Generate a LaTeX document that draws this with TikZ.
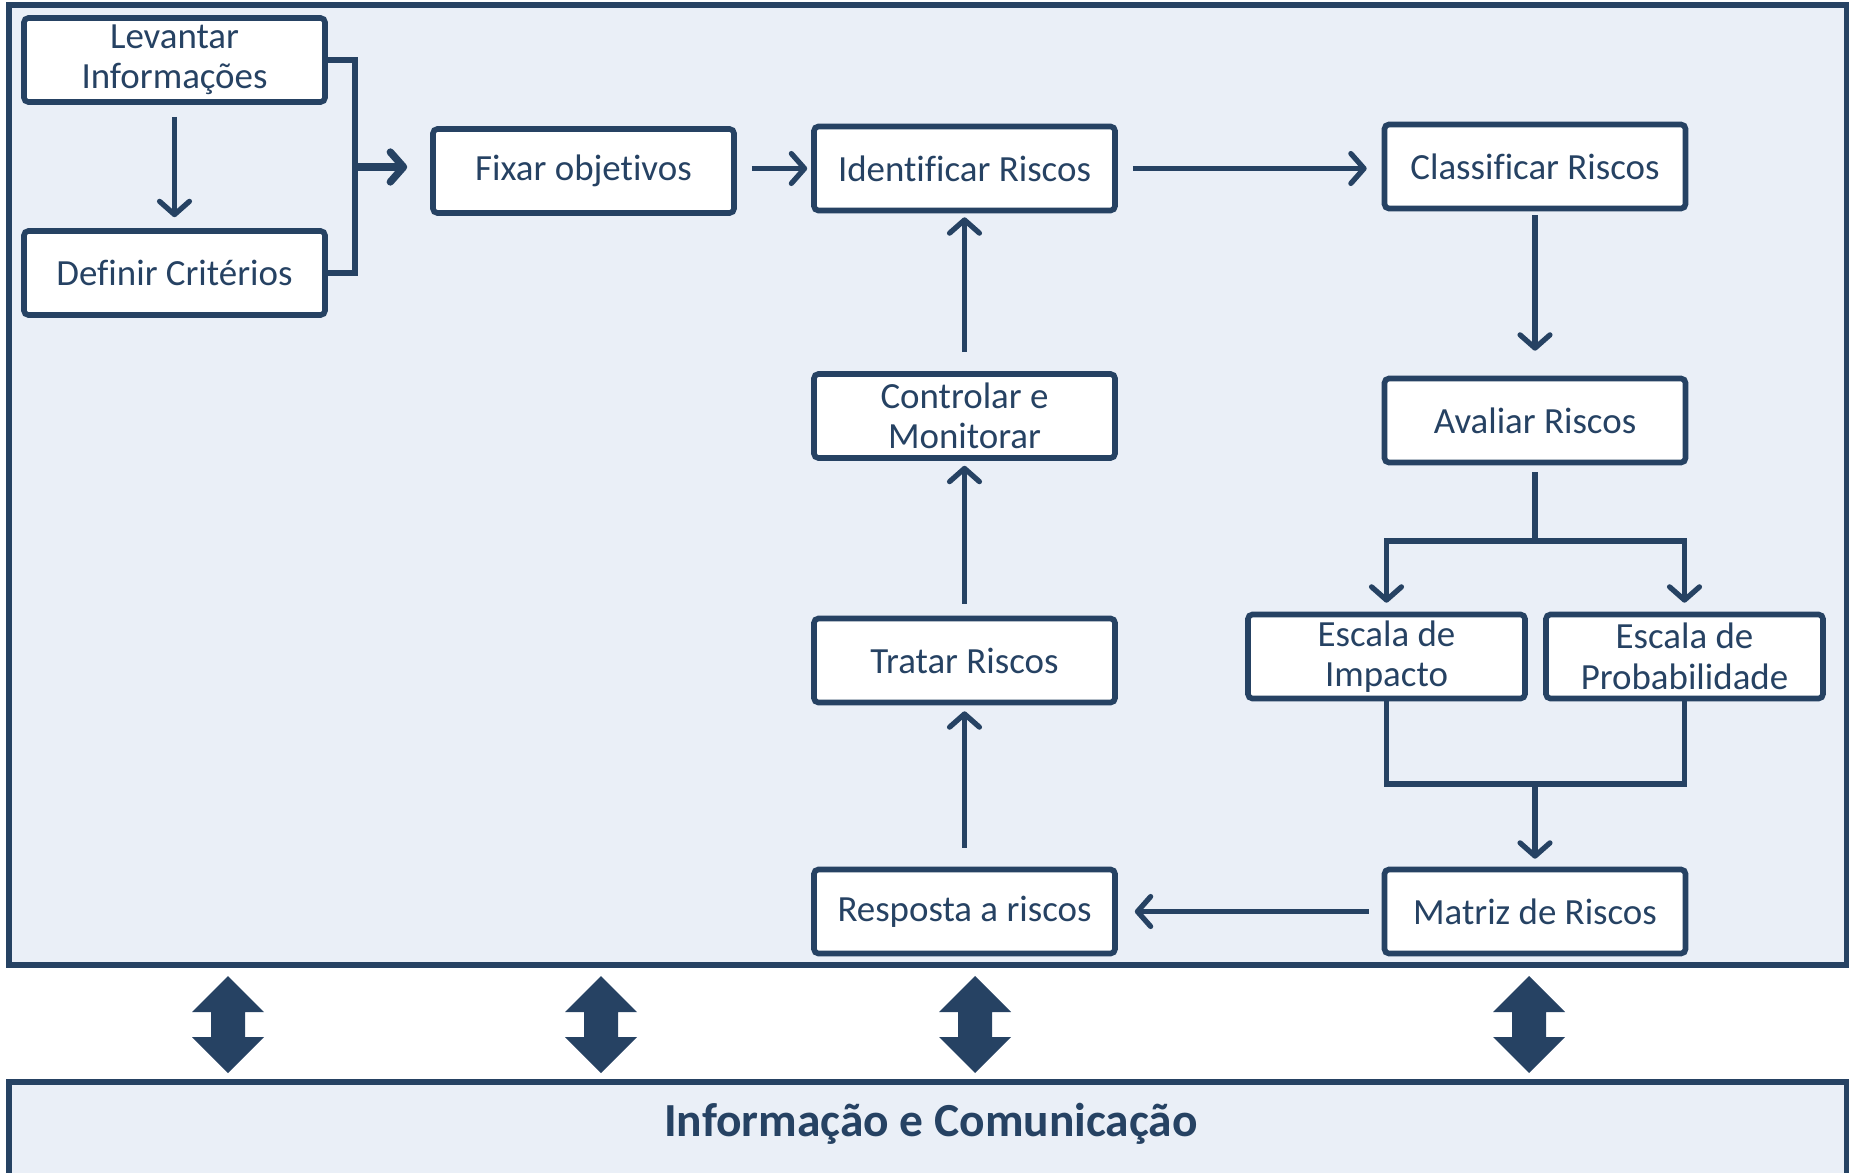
\documentclass[tikz,border=0pt]{standalone}
\usepackage{fontspec}
\setmainfont{Carlito}[Ligatures=NoCommon]
\usetikzlibrary{arrows.meta,positioning}
\definecolor{navy}{RGB}{38,66,99}
\definecolor{paleblue}{RGB}{234,239,247}

\begin{document}
\begin{tikzpicture}[
      >={Straight Barb[length=7.5pt,width=17pt,round]},
      box/.style={
        draw=navy,line width=3.2pt,rounded corners=2.5pt,fill=white,text=navy,
        minimum width=6.02cm,minimum height=1.68cm,inner sep=1pt,align=center,
        font=\fontsize{21}{23}\selectfont
      },
      link/.style={draw=navy,line width=3pt},
      panel/.style={draw=navy,line width=3pt,fill=paleblue},
    ]
    \useasboundingbox (0,0) rectangle (36.98,-23.44);
    \draw[panel] (0.18,-0.1) rectangle (36.94,-19.3);
    \draw[panel] (0.18,-21.64) rectangle (36.94,-24);
    \node[text=navy,font=\fontsize{27}{30}\selectfont\bfseries] (comm) at (18.62,-22.48) {Informação e Comunicação};
    % exchange arrows
    \foreach \x in {4.56,12.02,19.5,30.58}
      \fill[navy] (\x,-19.52) -- (\x+0.72,-20.24) -- (\x+0.34,-20.24) -- (\x+0.34,-20.74)
        -- (\x+0.72,-20.74) -- (\x,-21.46) -- (\x-0.72,-20.74) -- (\x-0.34,-20.74)
        -- (\x-0.34,-20.24) -- (\x-0.72,-20.24) -- cycle;
    \node[box] (lev) at (3.49,-1.2) {Levantar\\Informações};
    \node[box] (def) at (3.49,-5.46) {Definir Critérios};
    \node[box] (fix) at (11.67,-3.42) {Fixar objetivos};
    \node[box] (ide) at (19.29,-3.37) {Identificar Riscos};
    \node[box] (cla) at (30.7,-3.33) {Classificar Riscos};
    \node[box] (con) at (19.29,-8.32) {Controlar e\\Monitorar};
    \node[box] (ava) at (30.7,-8.41) {Avaliar Riscos};
    \node[box] (tra) at (19.29,-13.21) {Tratar Riscos};
    \node[box,minimum width=5.54cm] (imp) at (27.73,-13.13) {Escala de\\Impacto};
    \node[box,minimum width=5.54cm] (pro) at (33.69,-13.13) {Escala de\\Probabilidade};
    \node[box] (res) at (19.29,-18.23) {Resposta a riscos};
    \node[box] (mat) at (30.7,-18.23) {Matriz de Riscos};
    \coordinate (join) at (7.1,-3.34);
    \coordinate (split) at (30.7,-10.82);
    \coordinate (merge) at (30.7,-15.68);
    \draw[link,->,shorten <=0.24cm,shorten >=0.22cm] (lev) -- (def);
    \draw[link] (lev.east) -| (join) |- (def.east);
    \draw[link,->,line width=4.2pt,shorten >=0.46cm] (join) -- (join -| fix.west);
    \draw[link,->,shorten <=0.3cm,shorten >=0.08cm] (ide.west -| fix.east) -- (ide.west);
    \draw[link,->,shorten <=0.3cm,shorten >=0.3cm] (ide.east) -- (ide.east -| cla.west);
    \draw[link,->,shorten <=0.08cm,shorten >=0.5cm] (cla) -- (ava);
    \draw[link,shorten <=0.14cm] (ava.south) -- (split);
    \draw[link,->,shorten >=0.18cm] (split) -| (imp.north);
    \draw[link,->,shorten >=0.18cm] (split) -| (pro.north);
    \draw[link] (imp.south) |- (merge) -| (pro.south);
    \draw[link,->,shorten >=0.16cm] (merge) -- (mat);
    \draw[link,->,shorten <=0.26cm,shorten >=0.34cm] (mat) -- (res);
    \draw[link,->,shorten <=0.38cm,shorten >=0.12cm] (res) -- (tra);
    \draw[link,->,shorten <=0.24cm,shorten >=0.1cm] (tra) -- (con);
    \draw[link,->,shorten <=0.38cm,shorten >=0.08cm] (con) -- (ide);
  \end{tikzpicture}
\end{document}
